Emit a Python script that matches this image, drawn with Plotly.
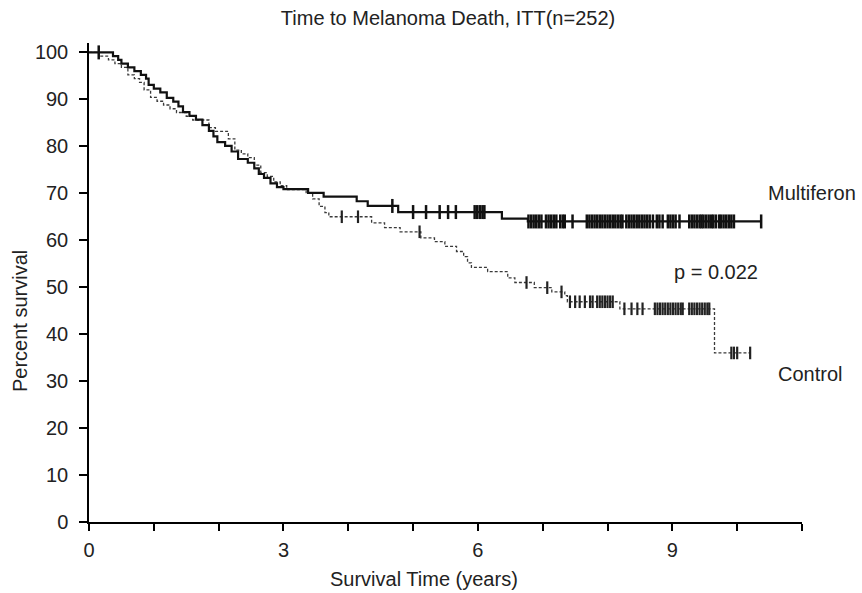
import bisect
import plotly.graph_objects as go

# ---------------- data ----------------
title_text = "Time to Melanoma Death, ITT(n=252)"
x_title = "Survival Time (years)"
y_title = "Percent survival"
x_tickvals = [0, 3, 6, 9]
y_tickvals = [0, 10, 20, 30, 40, 50, 60, 70, 80, 90, 100]

# Multiferon arm: step times (years) and survival (%) after each step
multi_t = [0, 0.37, 0.45, 0.50, 0.60, 0.70, 0.80, 0.88, 0.92, 1.00, 1.10, 1.20, 1.30,
           1.38, 1.45, 1.55, 1.65, 1.75, 1.85, 1.92, 1.98, 2.10, 2.20, 2.30, 2.45,
           2.55, 2.62, 2.70, 2.80, 2.90, 3.00, 3.38, 3.62, 4.13, 4.30, 4.77, 6.37,
           6.77, 10.37]
multi_s = [100, 99.2, 98.4, 97.6, 96.8, 96.0, 95.2, 94.4, 93.1, 92.3, 91.5, 90.3, 89.5,
           88.5, 87.3, 86.5, 85.7, 84.5, 83.3, 82.1, 80.9, 80.1, 78.9, 77.3, 76.5,
           75.3, 74.1, 73.3, 72.1, 71.3, 70.9, 70.1, 69.3, 68.3, 67.3, 66.0, 64.6,
           64.0, 64.0]
multi_cens = [0.15, 4.68, 5.00, 5.20, 5.41, 5.54, 5.66, 5.95, 5.99, 6.03, 6.07, 6.10,
              6.78, 6.82, 6.86, 6.90, 6.94, 6.98, 7.05, 7.09, 7.13, 7.17, 7.21, 7.27,
              7.31, 7.34, 7.46, 7.68, 7.72, 7.76, 7.80, 7.84, 7.88, 7.92, 7.96, 8.00,
              8.04, 8.08, 8.12, 8.16, 8.20, 8.23, 8.29, 8.33, 8.37, 8.41, 8.45, 8.49,
              8.53, 8.57, 8.61, 8.65, 8.70, 8.76, 8.80, 8.85, 8.93, 8.97, 9.01, 9.05,
              9.11, 9.26, 9.30, 9.34, 9.38, 9.42, 9.45, 9.48, 9.52, 9.56, 9.60, 9.63,
              9.67, 9.72, 9.75, 9.79, 9.83, 9.87, 9.91, 9.95, 10.37]

# Control arm
ctrl_t = [0, 0.15, 0.30, 0.40, 0.50, 0.60, 0.70, 0.78, 0.85, 0.95, 1.05, 1.15, 1.25,
          1.35, 1.50, 1.60, 1.85, 1.95, 2.15, 2.25, 2.35, 2.45, 2.55, 2.65, 2.75,
          2.85, 2.95, 3.05, 3.35, 3.45, 3.55, 3.64, 3.70, 4.36, 4.56, 4.80, 5.12,
          5.33, 5.49, 5.67, 5.78, 5.84, 5.90, 6.15, 6.46, 6.57, 6.87, 7.14, 7.34,
          7.38, 8.19, 9.65, 10.20]
ctrl_s = [100, 99.2, 98.4, 97.6, 96.8, 95.2, 94.4, 93.6, 92.0, 90.4, 89.6, 88.8, 88.0,
          87.2, 86.4, 85.6, 84.0, 83.2, 81.6, 79.2, 78.4, 77.6, 76.0, 74.4, 73.6,
          72.4, 71.6, 70.8, 70.0, 68.8, 67.2, 65.9, 65.0, 63.7, 62.7, 61.8, 60.5,
          59.7, 58.7, 57.6, 56.5, 55.2, 54.2, 53.3, 52.0, 51.0, 49.9, 49.0, 48.2,
          46.9, 45.4, 36.0, 36.0]
ctrl_cens = [3.90, 4.15, 5.10, 6.75, 7.07, 7.29, 7.42, 7.50, 7.57, 7.65, 7.73, 7.77,
             7.84, 7.88, 7.92, 7.96, 8.00, 8.04, 8.08, 8.26, 8.37, 8.46, 8.54, 8.73,
             8.77, 8.81, 8.85, 8.89, 8.93, 8.97, 9.01, 9.05, 9.09, 9.13, 9.16, 9.26,
             9.30, 9.34, 9.38, 9.42, 9.46, 9.50, 9.54, 9.57, 9.91, 9.95, 10.00, 10.20]

labels = {"Multiferon": (10.44, 70.0), "Control": (10.6, 31.6), "p = 0.022": (8.99, 53.3)}


def surv_at(ts, ss, t):
    i = bisect.bisect_right(ts, t) - 1
    return ss[max(i, 0)]


FONT = "Liberation Sans, Arial, sans-serif"
FS = 20
TXT = "#222"
W, H = 862, 593
L, R, T, B = 89, 60, 43, 71
PW, PH = W - L - R, H - T - B

fig = go.Figure()

# Control (dashed, thin)
fig.add_trace(go.Scatter(x=ctrl_t, y=ctrl_s, mode="lines", line_shape="hv",
                         line=dict(color="#3a3a3a", width=1.3, dash="3px,2px"),
                         showlegend=False, hoverinfo="skip"))
fig.add_trace(go.Scatter(x=ctrl_cens, y=[surv_at(ctrl_t, ctrl_s, t) for t in ctrl_cens],
                         mode="markers",
                         marker=dict(symbol="line-ns", size=9,
                                     line=dict(color="#222", width=2.2)),
                         showlegend=False, hoverinfo="skip"))
# Multiferon (solid, thicker)
fig.add_trace(go.Scatter(x=multi_t, y=multi_s, mode="lines", line_shape="hv",
                         line=dict(color="#111", width=2.2),
                         showlegend=False, hoverinfo="skip"))
fig.add_trace(go.Scatter(x=multi_cens, y=[surv_at(multi_t, multi_s, t) for t in multi_cens],
                         mode="markers",
                         marker=dict(symbol="line-ns", size=10,
                                     line=dict(color="#111", width=2.5)),
                         showlegend=False, hoverinfo="skip"))

for txt, (lx, ly) in labels.items():
    fig.add_annotation(x=lx, y=ly, text=txt, showarrow=False, xanchor="left",
                       yanchor="middle", font=dict(family=FONT, size=FS, color=TXT))

# axis titles (placed in paper coordinates)
fig.add_annotation(x=(424 - L) / PW, xref="paper", y=-(579 - (H - B)) / PH, yref="paper",
                   text=x_title, showarrow=False, xanchor="center", yanchor="middle",
                   font=dict(family=FONT, size=FS, color=TXT))
fig.add_annotation(x=-(L - 20) / PW, xref="paper", y=((H - B) - 321) / PH, yref="paper",
                   text=y_title, textangle=-90, showarrow=False, xanchor="center",
                   yanchor="middle", font=dict(family=FONT, size=FS, color=TXT))

fig.update_layout(
    width=W, height=H,
    margin=dict(l=L, r=R, t=T, b=B, autoexpand=False),
    paper_bgcolor="white", plot_bgcolor="white",
    font=dict(family=FONT, size=FS, color=TXT),
    title=dict(text=title_text, x=448 / W, xref="container", xanchor="center",
               y=1 - 18 / H, yref="container", yanchor="middle",
               font=dict(family=FONT, size=FS, color=TXT)),
    showlegend=False,
)

fig.update_xaxes(range=[0, 11], tickvals=x_tickvals, ticks="outside", ticklen=7,
                 tickwidth=1.5, tickcolor="black", showline=True, linecolor="black",
                 linewidth=2, showgrid=False, zeroline=False, ticklabelstandoff=2,
                 minor=dict(dtick=1, tick0=0, ticks="outside", ticklen=7,
                            tickwidth=1.5, tickcolor="black", showgrid=False),
                 tickfont=dict(family=FONT, size=FS, color=TXT))
fig.update_yaxes(range=[0, 102], tickvals=y_tickvals, ticks="outside", ticklen=8,
                 tickwidth=1.5, tickcolor="black", showline=True, linecolor="black",
                 linewidth=1.5, showgrid=False, zeroline=False, ticklabelstandoff=7,
                 tickfont=dict(family=FONT, size=FS, color=TXT))

fig.write_html("out.html", config={"displayModeBar": False},
               post_script="document.body.style.margin='0';")
